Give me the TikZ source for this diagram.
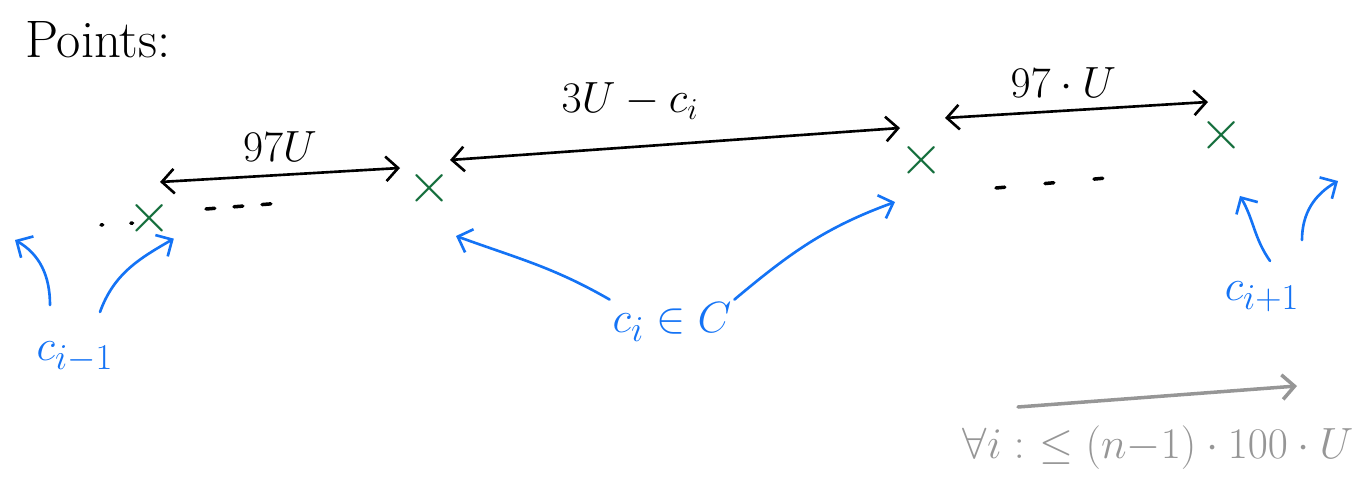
\documentclass[tikz,border=0pt]{standalone}
\usetikzlibrary{arrows.meta}
\definecolor{penblue}{RGB}{20,115,245}
\definecolor{pengreen}{RGB}{20,110,60}
\definecolor{pengray}{RGB}{150,150,150}
\tikzset{
  pt/.style={text=pengreen, font=\fontsize{34}{34}\selectfont, inner sep=0pt},
  lbl/.style={font=\fontsize{26}{26}\selectfont, inner sep=1pt},
  bluelbl/.style={text=penblue, font=\fontsize{30}{30}\selectfont, inner sep=1pt},
  gap/.style={line width=2pt, line cap=round, dash pattern=on 6pt off 16pt}
}
\begin{document}
\begin{tikzpicture}[x=0.02cm, y=-0.02cm, >={Straight Barb[length=7pt,width=14pt]}, line width=1.5pt, line cap=round]
  \useasboundingbox (0,0) rectangle (1355,482);

  \node[anchor=west, font=\fontsize{30}{30}\selectfont] (title) at (18,40) {Points:};

  % the points
  \node[pt, scale=1.3] (p1) at (150,218) {$\times$};
  \node[pt, scale=1.3] (p2) at (430,188) {$\times$};
  \node[pt, scale=1.3] (p3) at (922,160) {$\times$};
  \node[pt, scale=1.3] (p4) at (1222,135) {$\times$};

  % distances
  \coordinate (a1) at (160,182);
  \coordinate (a2) at (400,168);
  \coordinate (b1) at (450,160);
  \coordinate (b2) at (900,128);
  \coordinate (c1) at (945,118);
  \coordinate (c2) at (1208,102);
  \draw[<->] (a1) -- node[lbl, above=6pt] {$97U$} (a2);
  \draw[<->] (b1) -- node[lbl, above=14pt, pos=0.4] {$3U - c_i$} (b2);
  \draw[<->] (c1) -- node[lbl, above=6pt, pos=0.45] {$97\cdot U$} (c2);

  % gaps
  \draw[gap, dash pattern=on 1pt off 16pt] (101,225) -- (134,223);
  \draw[gap, dash pattern=on 5pt off 11pt] (206,209) -- (282,203);
  \draw[gap, dash pattern=on 5pt off 23pt] (996,188) -- (1106,178);

  % which ones are c_i
  \node[bluelbl] (cm) at (75,357) {$c_{i-1}$};
  \node[bluelbl] (ci) at (672,322) {$c_i \in C$};
  \node[bluelbl] (cp) at (1262,297) {$c_{i+1}$};
  \begin{scope}[penblue]
    \draw[->] (50,305) to[out=90, in=-30] (15,240);
    \draw[->] (100,312) to[out=70, in=-150] (p1.south east);
    \draw[->] (ci.north west) to[out=150, in=-20] (456,236);
    \draw[->] (ci.north east) to[out=40, in=-160] (895,202);
    \draw[->] (cp.north) ++(8,-18) to[out=125, in=-60] (1240,196);
    \draw[->] (1302,240) to[out=90, in=-150] (1338,181);
  \end{scope}

  % range
  \coordinate (r1) at (1018,407);
  \coordinate (r2) at (1297,386);
  \draw[->, pengray, line width=2pt] (r1) -- (r2);
  \node[text=pengray, font=\fontsize{28}{28}\selectfont] (rng) at (1158,448) {$\forall i:\ \leq (n{-}1)\cdot 100\cdot U$};
\end{tikzpicture}
\end{document}
